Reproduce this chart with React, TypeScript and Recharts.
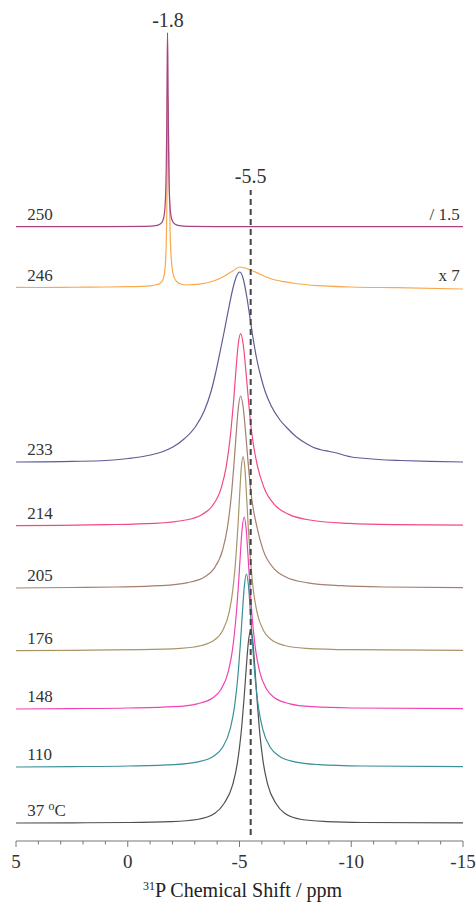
import * as React from "react"
import { LineChart, Line, XAxis, YAxis, ReferenceLine, ReferenceDot } from "recharts"

const serif = '"Liberation Serif", "Times New Roman", serif'

// temperatures, top to bottom
const temps = ["250", "246", "233", "214", "205", "176", "148", "110", "37"]
const colors = ["#a5447e", "#f9a84c", "#5d5d94", "#f34a7e", "#a57f70", "#a8956a", "#f044b4", "#3a8f99", "#505050"]
// vertical offset of each trace (same units as intensity)
const baselines = [614.3, 553, 379, 315.3, 253, 190.3, 132, 74, 18]
const sideNotes = ["/ 1.5", "x 7"]
const tickVals = [5, 4, 3, 2, 1, 0, -1, -2, -3, -4, -5, -6, -7, -8, -9, -10, -11, -12, -13, -14, -15]

// [ppm, intensity]
const s250: [number, number][] = [
  [5, 0], [1, 0.1], [-0.83, 0.3], [-1.25, 1], [-1.438, 2.4], [-1.552, 5.2], [-1.628, 11.4], [-1.666, 19.4],
  [-1.704, 39], [-1.723, 60], [-1.742, 97], [-1.761, 155], [-1.78, 194], [-1.799, 155], [-1.818, 97],
  [-1.837, 60], [-1.856, 39], [-1.894, 19.4], [-1.932, 11.4], [-2.008, 5.2], [-2.122, 2.4], [-2.31, 1],
  [-2.73, 0.3], [-4, 0.1], [-15, 0],
]
const s246: [number, number][] = [
  [5, 0.7], [4, 0.5], [3, 0.6], [2, 0.8], [1, 1], [0, 1.3], [-0.6, 1.6], [-1, 2.2], [-1.212, 3], [-1.422, 4.3],
  [-1.548, 7.2], [-1.632, 13.2], [-1.674, 21.1], [-1.716, 40.2], [-1.737, 60.8], [-1.758, 97.5], [-1.779, 154],
  [-1.8, 191], [-1.83, 154], [-1.86, 97.5], [-1.89, 60.8], [-1.92, 40.2], [-1.98, 21.1], [-2.04, 13.2],
  [-2.16, 7.2], [-2.34, 4.3], [-2.64, 3], [-3.2, 3.8], [-3.8, 6.7], [-4.3, 11.5], [-4.7, 17], [-5, 21],
  [-5.25, 20], [-5.5, 18], [-5.9, 14], [-6.2, 11], [-6.6, 8], [-7, 6.3], [-7.5, 4.5], [-8.5, 2.3],
  [-10, 1], [-12, 0.3], [-15, -1],
]
const s233: [number, number][] = [
  [5, 0], [2.48, 0.6], [0.98, 1.5], [-0.02, 3.5], [-1.02, 7], [-1.52, 10], [-2.02, 15], [-2.52, 23],
  [-3.02, 35], [-3.42, 51], [-3.72, 70], [-3.92, 88], [-4.12, 109], [-4.32, 131], [-4.52, 154], [-4.72, 175],
  [-4.87, 186], [-5.02, 190], [-5.17, 183], [-5.32, 166], [-5.47, 144], [-5.62, 122], [-5.77, 103],
  [-5.97, 84], [-6.14, 71], [-6.42, 56], [-6.81, 42], [-7.22, 32], [-7.55, 25], [-8.02, 18], [-8.32, 14.5],
  [-8.6, 12.5], [-9.02, 10.5], [-9.35, 9], [-9.72, 6.5], [-10.02, 5], [-10.42, 4], [-11.22, 2.5],
  [-12.22, 1.5], [-13.52, 0.6], [-15, 0],
]
const s214: [number, number][] = [
  [5, 0], [3, 0.4], [0.97, 1], [-1.18, 2.3], [-2.47, 5.2], [-3.33, 11.3], [-3.76, 19.2], [-4.19, 38.4],
  [-4.405, 59.1], [-4.62, 96], [-4.73, 122.9], [-4.835, 153.6], [-4.94, 180.7], [-5.05, 192], [-5.17, 180.7],
  [-5.29, 153.6], [-5.41, 122.9], [-5.53, 96], [-5.81, 59.1], [-6.09, 38.4], [-6.65, 19.2], [-7.21, 11.3],
  [-8.29, 5.2], [-9.91, 2.3], [-12, 1], [-15, 0.5],
]
const s205: [number, number][] = [
  [5, 0], [2.5, 0.5], [0.5, 1], [-1.45, 2.3], [-2.65, 5.2], [-3.45, 11.3], [-3.85, 19.2], [-4.25, 38.4],
  [-4.45, 59.1], [-4.65, 96], [-4.75, 122.9], [-4.85, 153.6], [-4.95, 180.7], [-5.05, 192], [-5.165, 180.7],
  [-5.28, 153.6], [-5.395, 122.9], [-5.51, 96], [-5.8, 59.1], [-6.05, 38.4], [-6.55, 19.2], [-7.05, 11.3],
  [-8.05, 5.2], [-9.55, 2.3], [-11.5, 1], [-15, 0.4],
]
const s176: [number, number][] = [
  [5, 0], [2.5, 0.4], [-0.5, 1], [-2.37, 2.4], [-3.3, 5.2], [-3.92, 11.4], [-4.23, 19.4], [-4.54, 38.8],
  [-4.695, 59.7], [-4.85, 97], [-4.93, 124.2], [-5.005, 155.2], [-5.08, 182.6], [-5.16, 194], [-5.24, 182.6],
  [-5.315, 155.2], [-5.39, 124.2], [-5.47, 97], [-5.625, 59.7], [-5.78, 38.8], [-6.09, 19.4], [-6.4, 11.4],
  [-7.02, 5.2], [-7.95, 2.4], [-10, 1], [-15, 0.3],
]
const s148: [number, number][] = [
  [5, 0], [2.5, 0.4], [0, 1], [-2.06, 2.3], [-3.11, 5.2], [-3.81, 11.3], [-4.16, 19.2], [-4.51, 38.4],
  [-4.685, 59.1], [-4.86, 96], [-4.95, 122.9], [-5.035, 153.6], [-5.12, 180.7], [-5.21, 192], [-5.295, 180.7],
  [-5.38, 153.6], [-5.465, 122.9], [-5.55, 96], [-5.72, 59.1], [-5.89, 38.4], [-6.23, 19.2], [-6.57, 11.3],
  [-7.25, 5.2], [-8.27, 2.3], [-10, 1], [-15, 0.3],
]
const s110: [number, number][] = [
  [5, 0], [2.5, 0.4], [0, 1], [-2.07, 2.4], [-3.15, 5.2], [-3.87, 11.3], [-4.23, 19.3], [-4.59, 38.6],
  [-4.77, 59.4], [-4.95, 96.5], [-5.04, 123.5], [-5.13, 154.4], [-5.22, 181.6], [-5.31, 193], [-5.4, 181.6],
  [-5.49, 154.4], [-5.58, 123.5], [-5.67, 96.5], [-5.85, 59.4], [-6.03, 38.6], [-6.39, 19.3], [-6.75, 11.3],
  [-7.47, 5.2], [-8.55, 2.4], [-10.5, 1], [-15, 0.3],
]
const s37: [number, number][] = [
  [5, 0], [2.5, 0.2], [0, 0.5], [-1.9, 1.4], [-3.1, 3.5], [-3.9, 9.7], [-4.3, 19.3], [-4.7, 38.6],
  [-4.9, 59.4], [-5.1, 96.5], [-5.2, 123.5], [-5.3, 154.4], [-5.4, 181.6], [-5.5, 193], [-5.595, 181.6],
  [-5.69, 154.4], [-5.785, 123.5], [-5.88, 96.5], [-6.07, 59.4], [-6.26, 38.6], [-6.64, 19.3], [-7.02, 9.7],
  [-7.78, 3.5], [-8.92, 1.4], [-10.5, 0.5], [-15, 0.2],
]
const traces = [s250, s246, s233, s214, s205, s176, s148, s110, s37]

const series = traces.map((pts, i) => ({
  name: temps[i],
  color: colors[i],
  data: pts.map(([x, h]) => ({ x, y: baselines[i] + h })),
}))

function ShiftTick(props: any) {
  const { x, y, payload } = props
  const major = payload.value % 5 === 0
  return (
    <g>
      <line x1={x} x2={x} y1={y} y2={y + (major ? 6 : 3.5)} stroke="#777" strokeWidth={1} />
      {major && (
        <text x={x} y={y + 27} textAnchor="middle" fontSize={19} fontFamily={serif} fill="#333">
          {payload.value}
        </text>
      )}
    </g>
  )
}

const textAt = (text: string, anchor: string, dy: number, size: number) => (props: any) => {
  const vb = props.viewBox
  const cx = vb.x + vb.width / 2
  const cy = vb.y + vb.height / 2
  return (
    <text x={cx} y={cy + dy} textAnchor={anchor} fontSize={size} fontFamily={serif} fill="#333">
      {text}
    </text>
  )
}

const celsiusLabel = (props: any) => {
  const vb = props.viewBox
  const cx = vb.x + vb.width / 2
  const cy = vb.y + vb.height / 2
  return (
    <text x={cx} y={cy - 7} fontSize={17} fontFamily={serif} fill="#333">
      <tspan>37 </tspan>
      <tspan dy={-6} fontSize={12}>o</tspan>
      <tspan dy={6}>C</tspan>
    </text>
  )
}

const axisTitle = (props: any) => {
  const vb = props.viewBox
  return (
    <text x={vb.x + vb.width / 2 + 3} y={vb.y + 56} textAnchor="middle" fontSize={20} fontFamily={serif} fill="#222">
      <tspan dy={-7} fontSize={12}>31</tspan>
      <tspan dy={7}>P Chemical Shift / ppm</tspan>
    </text>
  )
}

export default function App() {
  const drawOrder = [...series].reverse()
  return (
    <div style={{ position: "fixed", left: 0, top: 0, width: 476, height: 903, background: "#fff" }}>
      <LineChart width={476} height={903} margin={{ top: 0, right: 13, bottom: 0, left: 16 }}>
        <XAxis
          type="number"
          dataKey="x"
          domain={[-15, 5]}
          reversed
          allowDataOverflow
          ticks={tickVals}
          interval={0}
          tickLine={false}
          tickSize={0}
          tickMargin={0}
          axisLine={{ stroke: "#777" }}
          height={62}
          tick={<ShiftTick />}
          label={axisTitle}
        />
        <YAxis type="number" dataKey="y" domain={[0, 841]} hide allowDataOverflow />
        {drawOrder.map((s) => (
          <Line
            key={s.name}
            data={s.data}
            dataKey="y"
            name={s.name}
            type="monotone"
            stroke={s.color}
            strokeWidth={1.2}
            dot={false}
            activeDot={false}
            isAnimationActive={false}
          />
        ))}
        <ReferenceLine
          segment={[{ x: -5.5, y: 6 }, { x: -5.5, y: 651 }]}
          stroke="#444"
          strokeWidth={2}
          strokeDasharray="6 4"
          ifOverflow="visible"
        />
        {temps.map((t, i) => (
          <ReferenceDot
            key={"lbl" + t}
            x={4.5}
            y={baselines[i]}
            r={1}
            fill="none"
            stroke="none"
            ifOverflow="visible"
            label={t === "37" ? celsiusLabel : textAt(t, "start", -7, 17)}
          />
        ))}
        {sideNotes.map((n, i) => (
          <ReferenceDot
            key={"note" + i}
            x={-14.85}
            y={baselines[i]}
            r={1}
            fill="none"
            stroke="none"
            ifOverflow="visible"
            label={textAt(n, "end", -7, 17)}
          />
        ))}
        <ReferenceDot x={-1.8} y={814.3} r={1} fill="none" stroke="none" ifOverflow="visible" label={textAt("-1.8", "middle", 0, 20)} />
        <ReferenceDot x={-5.5} y={658.3} r={1} fill="none" stroke="none" ifOverflow="visible" label={textAt("-5.5", "middle", 0, 20)} />
      </LineChart>
    </div>
  )
}
